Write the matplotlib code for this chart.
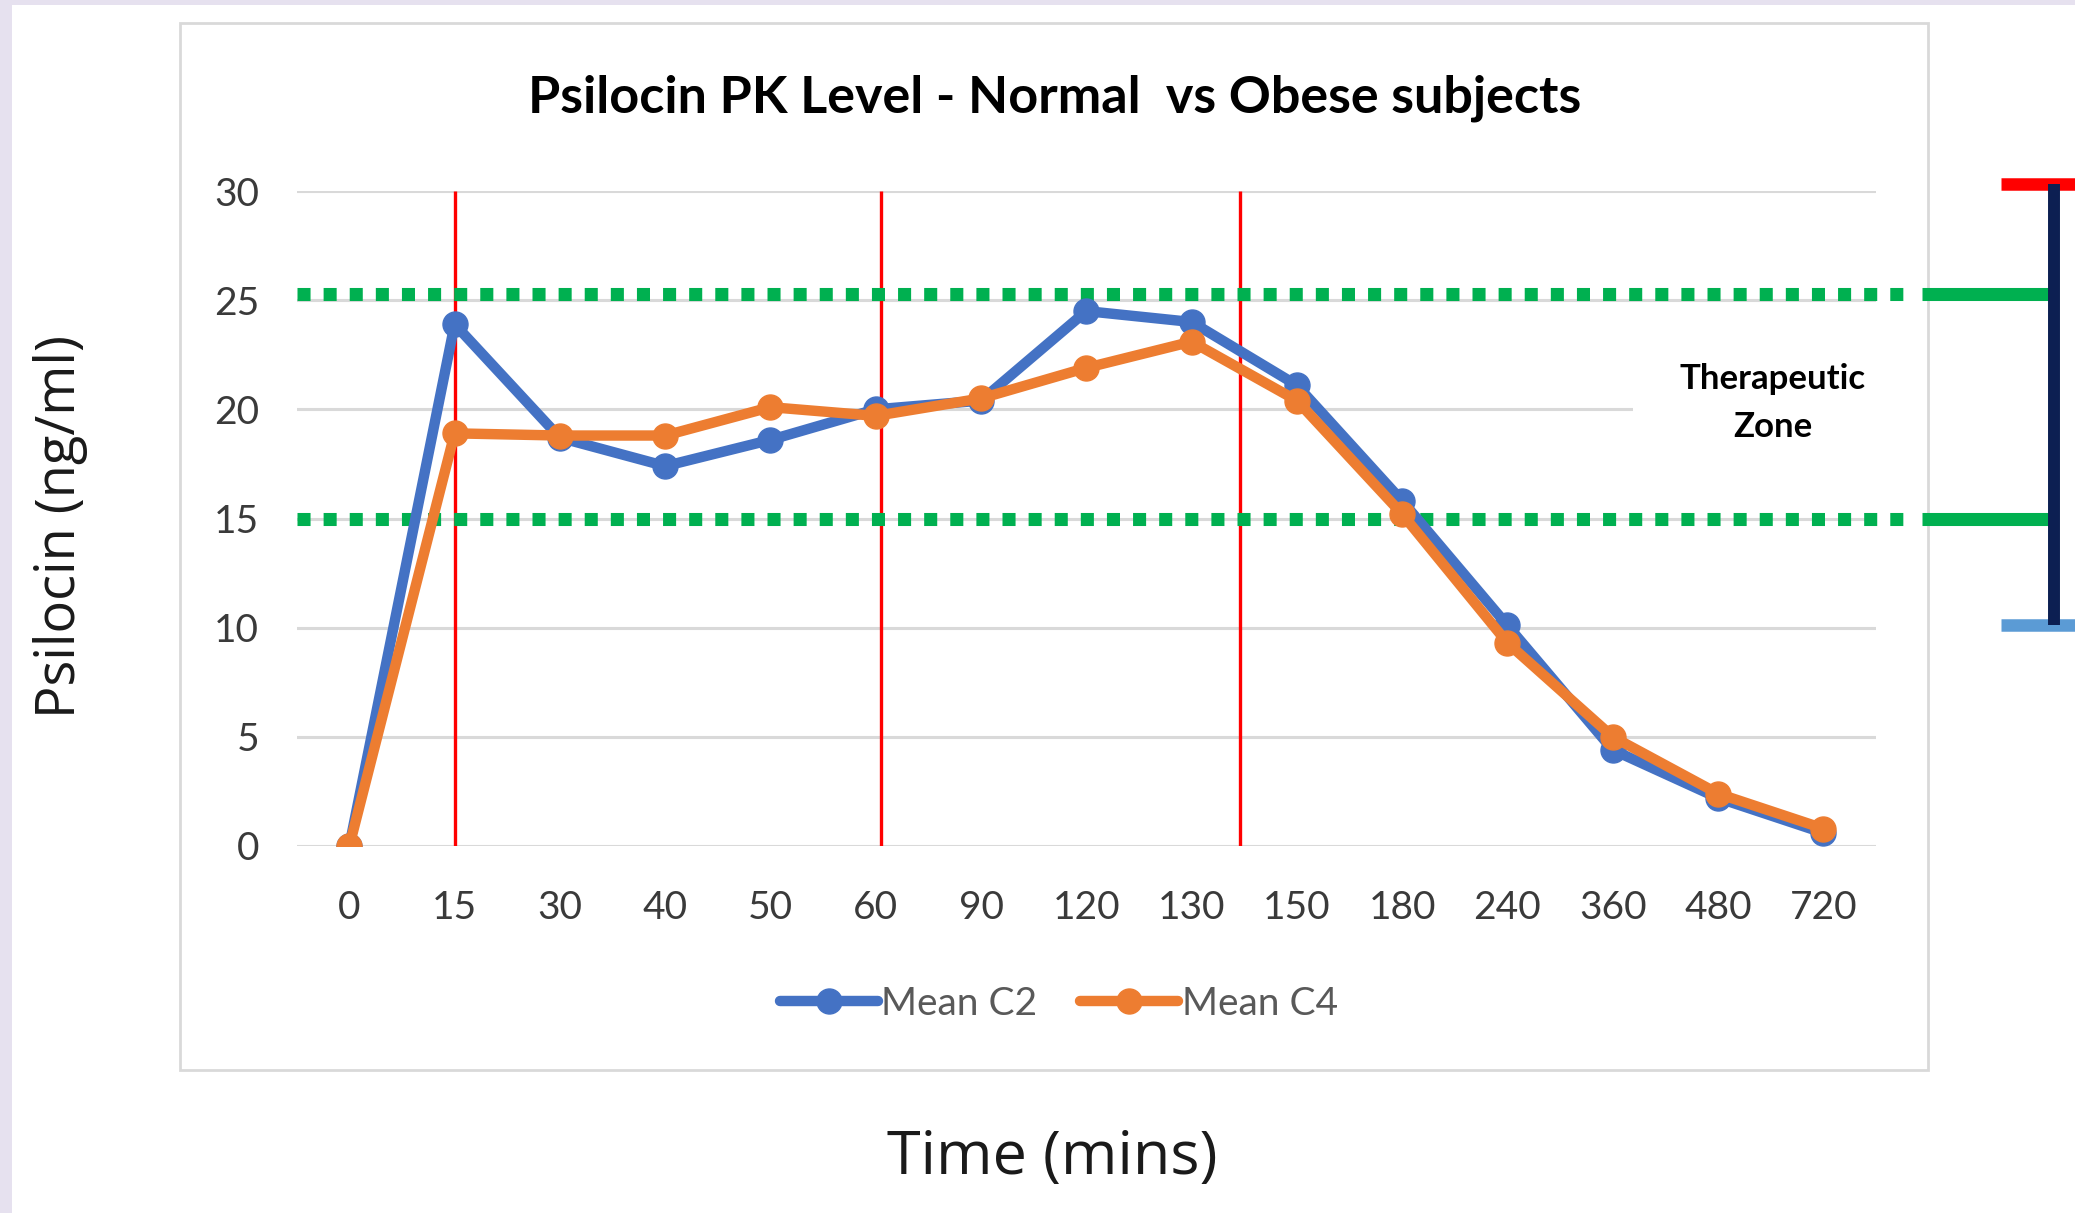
import matplotlib
matplotlib.use("Agg")
import matplotlib.pyplot as plt
from matplotlib.patches import Rectangle

# Datos
times = ["0", "15", "30", "40", "50", "60", "90", "120", "130", "150",
         "180", "240", "360", "480", "720"]
mean_c2 = [0, 23.9, 18.7, 17.4, 18.6, 20.0, 20.4, 24.5, 24.0, 21.1,
           15.8, 10.1, 4.4, 2.2, 0.6]
mean_c4 = [0, 18.9, 18.8, 18.8, 20.1, 19.7, 20.5, 21.9, 23.1, 20.4,
           15.2, 9.3, 5.0, 2.4, 0.8]
red_lines = [1, 5.05, 8.46]        # posiciones de las lineas rojas
zone_low, zone_high = 15, 25.3     # limites zona terapeutica
bar_top, bar_bottom = 30.3, 10.1   # barra de la derecha

# Colores
BLUE = "#4472c4"
ORANGE = "#ed7d31"
GREEN = "#00b050"
RED = "#ff0000"
NAVY = "#0c1f52"
LIGHTBLUE = "#5b9bd5"
GRAY_TXT = "#3a3a3a"

W, H = 2075, 1213
fig = plt.figure(figsize=(W / 100, H / 100), dpi=100)
fig.patch.set_facecolor("#e6e1ef")

# fondo blanco y marco del grafico
fig.patches.append(Rectangle((12 / W, 0), 1, 1 - 5 / H, transform=fig.transFigure,
                             facecolor="white", edgecolor="none", zorder=-3))
fig.patches.append(Rectangle((180 / W, 1 - 1070 / H), (1928 - 180) / W, (1070 - 23) / H,
                             transform=fig.transFigure, facecolor="none",
                             edgecolor="#d9d9d9", lw=2, zorder=-2))

ax = fig.add_axes([296.7 / W, 1 - 846 / H, (1876 - 296.7) / W, (846 - 191) / H])
ax.set_facecolor("none")
ax.set_zorder(1)
x = list(range(len(times)))

ax.set_xlim(-0.5, len(times) - 0.5)
ax.set_ylim(0, 30)
ax.set_yticks(range(0, 31, 5))
ax.set_xticks(x)
ax.set_xticklabels(times)
for s in ax.spines.values():
    s.set_visible(False)
ax.tick_params(length=0, labelsize=28, colors=GRAY_TXT, labelfontfamily="Lato")
ax.tick_params(axis="y", pad=27)
ax.tick_params(axis="x", pad=32)
ax.yaxis.grid(True, color="#d9d9d9", lw=2.2)
ax.set_axisbelow(True)

# lineas rojas verticales
ax.vlines(red_lines, 0, 30, color=RED, lw=2.4, zorder=2)

# series
ax.plot(x, mean_c2, color=BLUE, lw=7.5, marker="o", ms=18,
        solid_capstyle="round", label="Mean C2", zorder=5)
ax.plot(x, mean_c4, color=ORANGE, lw=7.5, marker="o", ms=18,
        solid_capstyle="round", label="Mean C4", zorder=6)

# zona terapeutica
for yv in (zone_low, zone_high):
    ax.plot([-0.5, 14.8], [yv, yv], color=GREEN, lw=9.4, ls=(0, (1, 1)),
            dash_capstyle="butt", clip_on=False, zorder=4)
    ax.plot([14.94, 16.19], [yv, yv], color=GREEN, lw=9.4,
            solid_capstyle="butt", clip_on=False, zorder=4)

ax.plot([16.19, 16.19], [bar_bottom, bar_top], color=NAVY, lw=8.6,
        solid_capstyle="butt", clip_on=False, zorder=7)
ax.plot([15.69, 16.8], [bar_top, bar_top], color=RED, lw=9,
        solid_capstyle="butt", clip_on=False, zorder=6)
ax.plot([15.69, 16.8], [bar_bottom, bar_bottom], color=LIGHTBLUE, lw=9,
        solid_capstyle="butt", clip_on=False, zorder=6)

ax.text(13.52, 20.3, "Therapeutic\nZone", ha="center", va="center",
        fontsize=25, fontweight="bold", family="Lato", color="black",
        linespacing=1.6, zorder=3,
        bbox=dict(boxstyle="square,pad=1.35", facecolor="white", edgecolor="none"))

# titulo y etiquetas
fig.text(1055 / W, 1 - 98 / H, "Psilocin PK Level - Normal  vs Obese subjects",
         ha="center", va="center", fontsize=37.5, fontweight="bold",
         family="Lato", color="black")
fig.text(61 / W, 1 - 526 / H, "Psilocin (ng/ml)", rotation=90, ha="center",
         va="center", fontsize=39, family="Open Sans", color="#1a1a1a")
fig.text(1052 / W, 1 - 1158 / H, "Time (mins)", ha="center", va="center",
         fontsize=44, family="Open Sans", color="#1a1a1a")

leg = fig.legend(loc="center", bbox_to_anchor=(1059 / W, 1 - 1004 / H), ncol=2,
                 frameon=False, prop={"family": "Lato", "size": 28},
                 handlelength=2.5, handletextpad=0.1, columnspacing=1.1,
                 labelcolor="#595959")

fig.savefig("out.png", dpi=100, facecolor=fig.get_facecolor())
